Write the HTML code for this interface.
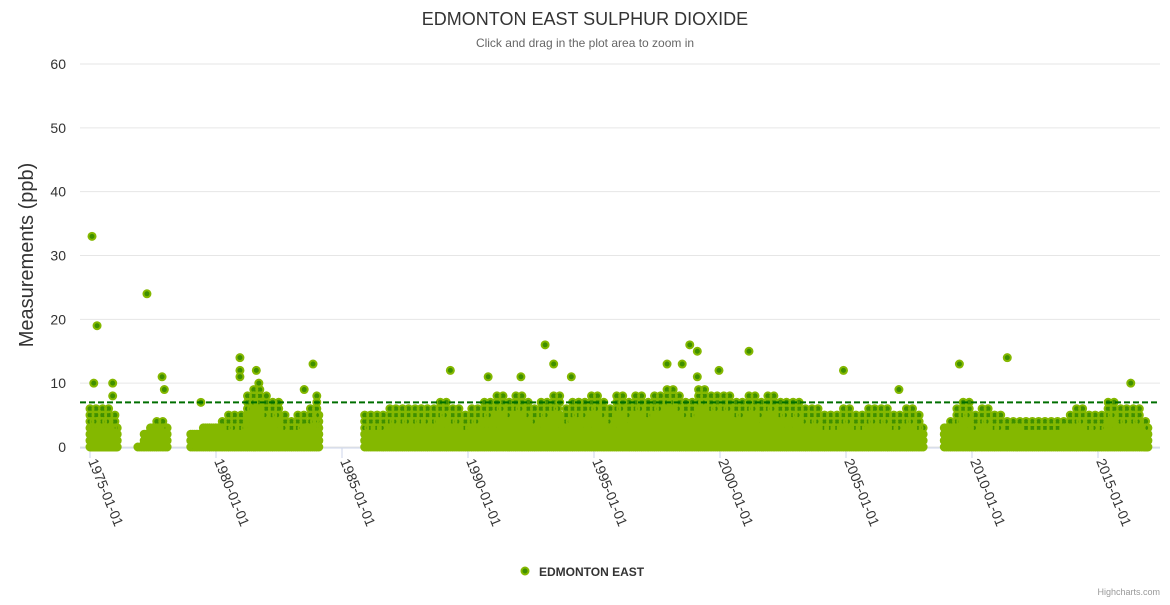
<!DOCTYPE html>
<html><head><meta charset="utf-8"><style>
body{margin:0;background:#fff;font-family:"Liberation Sans",sans-serif}
svg text{font-family:"Liberation Sans",sans-serif}
</style></head><body>
<svg id="chart" width="1170" height="600" xmlns="http://www.w3.org/2000/svg">
<rect width="1170" height="600" fill="#fff"/>
<text x="585" y="25" text-anchor="middle" font-size="18" fill="#333">EDMONTON EAST SULPHUR DIOXIDE</text>
<text x="585" y="47" text-anchor="middle" font-size="12" fill="#666">Click and drag in the plot area to zoom in</text>
<text transform="translate(33,255) rotate(-90)" text-anchor="middle" font-size="20" fill="#333">Measurements (ppb)</text>
<g id="grid"></g><g id="xaxis"></g><g id="pts"></g><g id="ref"></g>
<g>
<circle cx="525" cy="571" r="3.5" fill="#3f8f00" stroke="#84b800" stroke-width="2"/>
<text x="539" y="576" font-size="12" font-weight="bold" fill="#333">EDMONTON EAST</text>
</g>
<text x="1160" y="595" text-anchor="end" font-size="9" fill="#999">Highcharts.com</text>
</svg>
<script>
const yTicks=[0,10,20,30,40,50,60];
const xTickYears=[1975,1980,1985,1990,1995,2000,2005,2010,2015];
const xTickLabels=["1975-01-01","1980-01-01","1985-01-01","1990-01-01","1995-01-01","2000-01-01","2005-01-01","2010-01-01","2015-01-01"];
// measurement periods (years) and quarterly maxima of the dense cloud within each
const segStart=[1975.0,1976.9,1979.0,1985.9,2008.9];
const segEnd=[1976.1,1978.1,1984.1,2008.1,2017.05];
const seg1Max=[6,4,6,5,3];
const seg2Max=[0,2,3,4,3];
const seg3Max=[2,2,3,3,3,4,5,4,5,8,9,7,6,7,5,4,4,5,3,6,8,4];
const seg4Max=[5,5,5,4,6,5,6,5,6,6,5,6,7,5,6,5,5,6,5,7,5,8,7,6,8,7,6,5,7,6,8,5,6,7,7,5,8,7,6,5,8,7,6,8,6,7,8,6,9,8,7,6,7,9,7,8,7,8,6,7,6,8,7,6,8,6,7,5,7,6,5,6,5,5,5,5,6,5,5,5,6,5,6,5,5,4,6,5,5,4,4,3];
const seg5Max=[3,4,6,7,5,4,6,5,5,4,4,3,4,4,4,4,4,4,4,3,5,6,5,5,4,5,7,5,6,5,6,4,3];
const outlierYear=[1975.08,1975.28,1975.15,1975.9,1975.9,1977.26,1977.86,1977.95,1979.4,1980.95,1980.95,1980.95,1981.6,1981.7,1982.0,1983.85,1983.5,1989.3,1990.8,1992.1,1993.06,1993.4,1994.1,1997.9,1998.5,1998.8,1999.1,1999.1,1999.96,2001.15,2004.9,2007.1,2009.5,2011.4,2016.3];
const outlierValue=[33,19,10,10,8,24,11,9,7,14,12,11,12,10,8,13,9,12,11,11,16,13,11,13,13,16,15,11,12,15,12,9,13,14,10];
const refValue=7;

const NS="http://www.w3.org/2000/svg";
const xL=80,xR=1160,yT=64,yB=447;
const X=yr=>90+(yr-1975)*25.2;
const Y=v=>yB-(v/60)*(yB-yT);
function mk(t,a,p){const e=document.createElementNS(NS,t);for(const k in a)e.setAttribute(k,a[k]);p.appendChild(e);return e;}
const grid=document.getElementById('grid');
yTicks.forEach(v=>{
  const l=mk('line',{x1:xL,x2:xR,y1:Y(v),y2:Y(v),stroke:'#e6e6e6'},grid);
  
  
  const t=mk('text',{x:66,y:Y(v)+5,'text-anchor':'end','font-size':14,fill:'#333'},grid);
  t.textContent=v;
  
  
});
const xa=document.getElementById('xaxis');
const al=mk('line',{x1:xL,x2:xR,y1:yB+1,y2:yB+1,stroke:'#ccd6eb'},xa);


xTickYears.forEach((yr,i)=>{
  const x=X(yr);
  const tk=mk('line',{x1:x,x2:x,y1:yB+1,y2:yB+11,stroke:'#ccd6eb'},xa);
  
  
  const t=mk('text',{transform:`translate(${x-2},${yB+14}) rotate(68)`,'font-size':14,fill:'#333'},xa);
  t.textContent=xTickLabels[i];
  
  
});
const pts=document.getElementById('pts');
const segMax=[seg1Max,seg2Max,seg3Max,seg4Max,seg5Max];
let d='';
function dot(x,v){d+=`M${x.toFixed(1)},${Y(v).toFixed(1)}m-3.5,0a3.5,3.5 0 1,0 7,0a3.5,3.5 0 1,0 -7,0`;}
segStart.forEach((s,si)=>{
  const arr=segMax[si];
  arr.forEach((m,qi)=>{
    const a=s+qi*0.25;
    const b=Math.min(a+0.25,segEnd[si]);
    if(a>=segEnd[si])return;
    let col=0;
    for(let x=X(a);x<=X(b);x+=2,col++){
      for(let v=0;v<=m;v++){
        if(v>=m-1&&m>=4&&(col%3)!==0)continue;
        if(v===m-2&&m>=5&&(col%2)!==0)continue;
        dot(x,v);
      }
    }
  });
});
const cloud=mk('path',{d:d,fill:'#3f8f00',stroke:'#84b800','stroke-width':2},pts);


outlierYear.forEach((yr,i)=>{
  const c=mk('circle',{cx:X(yr),cy:Y(outlierValue[i]),r:3.5,fill:'#3f8f00',stroke:'#84b800','stroke-width':2},pts);
  
  
});
const rl=mk('line',{x1:xL,x2:xR,y1:Y(refValue),y2:Y(refValue),stroke:'#006f00','stroke-width':2,'stroke-dasharray':'6,3'},document.getElementById('ref'));


</script>
</body></html>
